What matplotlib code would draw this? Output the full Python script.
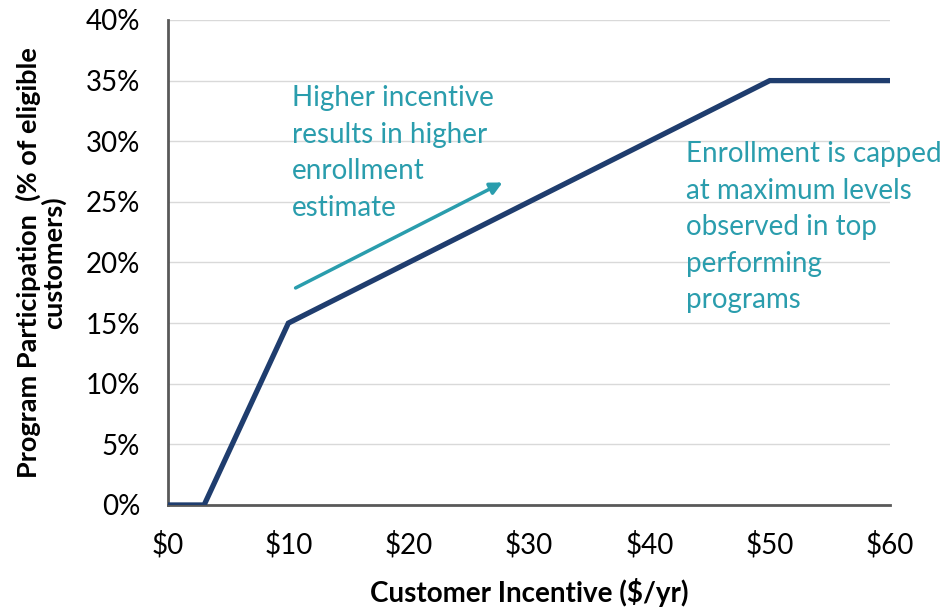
import matplotlib
matplotlib.use('Agg')
import matplotlib.pyplot as plt
from matplotlib.ticker import FuncFormatter

plt.rcParams['font.family'] = ['Lato', 'DejaVu Sans']

# incentive ($/yr) vs participation (%)
incentive = [0, 3, 10, 50, 60]
participation = [0, 0, 15, 35, 35]

x_ticks = [0, 10, 20, 30, 40, 50, 60]
y_ticks = [0, 5, 10, 15, 20, 25, 30, 35, 40]

navy = '#1f3d6e'
teal = '#2a9dad'
spine_c = '#595959'

fig = plt.figure(figsize=(9.53, 6.13), dpi=100)
ax = fig.add_axes([0.1763, 0.1762, 0.7577, 0.7912])

ax.plot(incentive, participation, color=navy, lw=3.8, solid_joinstyle='miter', zorder=3)

ax.set_xlim(0, 60)
ax.set_ylim(0, 40)
ax.set_xticks(x_ticks)
ax.set_yticks(y_ticks)
ax.xaxis.set_major_formatter(FuncFormatter(lambda v, p: '$%d' % v))
ax.yaxis.set_major_formatter(FuncFormatter(lambda v, p: '%d%%' % v))
ax.tick_params(length=0, labelsize=20, colors='black')
ax.tick_params(axis='x', pad=19)
ax.tick_params(axis='y', pad=20)

ax.grid(axis='y', color='#d9d9d9', lw=1)
ax.set_axisbelow(True)
for s in ['top', 'right']:
    ax.spines[s].set_visible(False)
for s in ['left', 'bottom']:
    ax.spines[s].set_color(spine_c)
    ax.spines[s].set_linewidth(2)

ax.set_xlabel('Customer Incentive ($/yr)', fontsize=20, fontweight='bold', labelpad=14)
ax.set_ylabel('Program Participation  (% of eligible\ncustomers)', fontsize=19.5,
              fontweight='bold', labelpad=14, linespacing=1.0)

ax.text(10.3, 34.6, 'Higher incentive\nresults in higher\nenrollment\nestimate',
        color=teal, fontsize=20, va='top', ha='left', linespacing=1.5)
ax.text(43, 30.0, 'Enrollment is capped\nat maximum levels\nobserved in top\nperforming\nprograms',
        color=teal, fontsize=20, va='top', ha='left', linespacing=1.5)

ax.annotate('', xy=(27.8, 26.6), xytext=(10.6, 17.9),
            arrowprops=dict(arrowstyle='-|>', color=teal, lw=2.5, mutation_scale=18,
                            shrinkA=0, shrinkB=0))

fig.savefig('out.png', dpi=100)
